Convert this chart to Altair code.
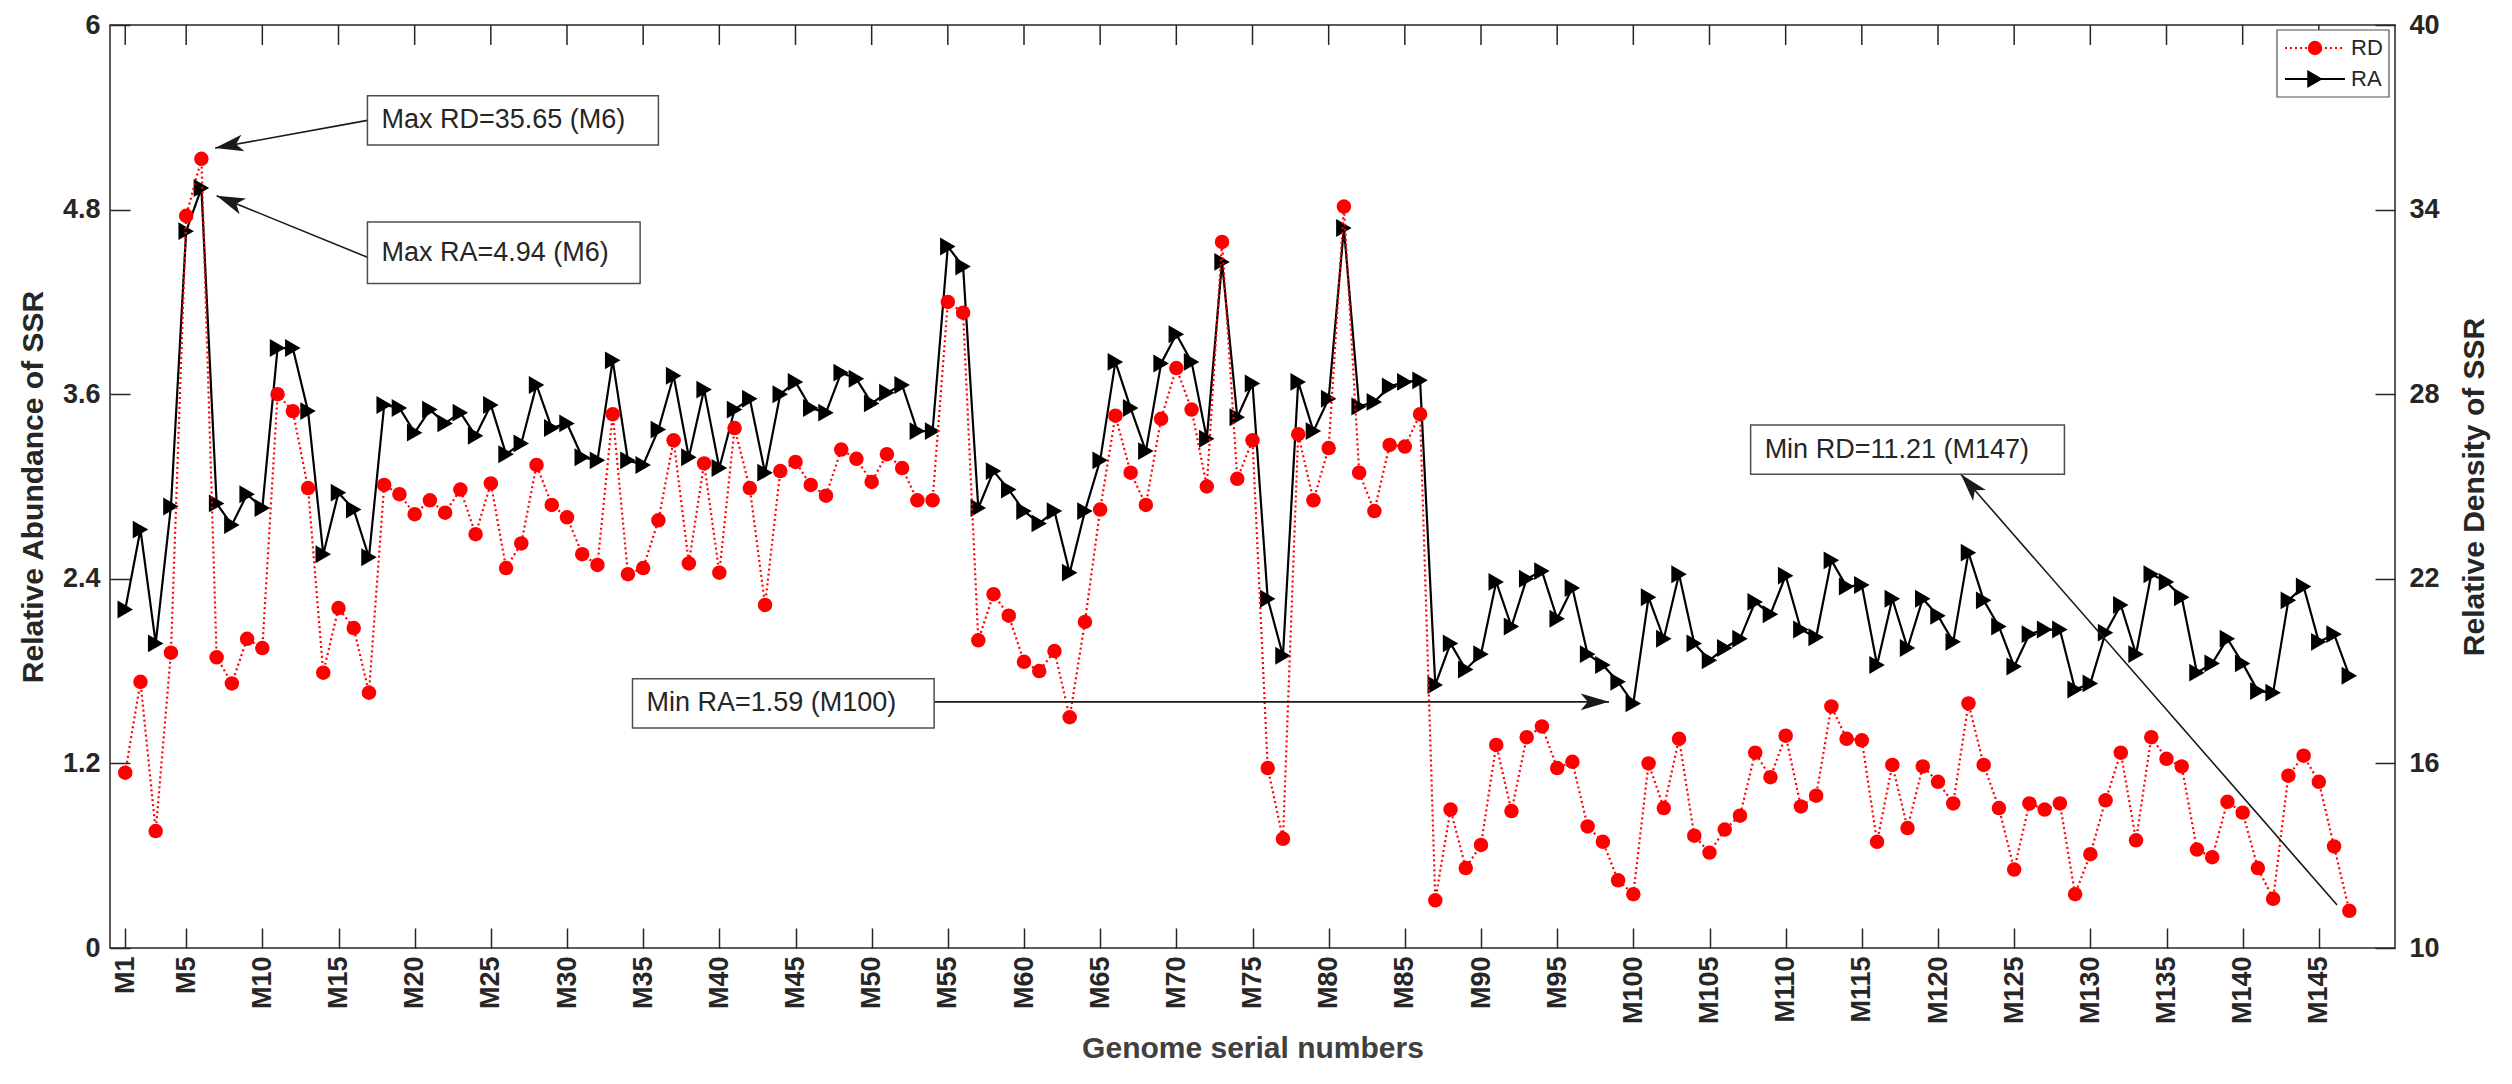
import math
import altair as alt
import pandas as pd

# ---------------- data ----------------
genomes = list(range(1, 148))  # M1 ... M147

RA = [2.20, 2.72, 1.98, 2.87, 4.66, 4.94, 2.89, 2.75, 2.95, 2.86,
      3.90, 3.90, 3.49, 2.56, 2.96, 2.85, 2.54, 3.53, 3.51, 3.35,
      3.50, 3.41, 3.48, 3.33, 3.53, 3.21, 3.28, 3.66, 3.38, 3.41,
      3.19, 3.17, 3.82, 3.17, 3.14, 3.37, 3.72, 3.19, 3.63, 3.12,
      3.50, 3.57, 3.09, 3.60, 3.68, 3.51, 3.48, 3.74, 3.70, 3.54,
      3.61, 3.66, 3.36, 3.36, 4.56, 4.43, 2.86, 3.10, 2.98, 2.84,
      2.76, 2.84, 2.44, 2.84, 3.17, 3.81, 3.51, 3.23, 3.80, 3.99,
      3.81, 3.31, 4.46, 3.45, 3.67, 2.27, 1.90, 3.68, 3.36, 3.57,
      4.68, 3.52, 3.55, 3.65, 3.68, 3.69, 1.71, 1.98, 1.81, 1.91,
      2.38, 2.09, 2.40, 2.45, 2.14, 2.34, 1.91, 1.84, 1.73, 1.59,
      2.28, 2.01, 2.43, 1.98, 1.87, 1.95, 2.01, 2.25, 2.17, 2.42,
      2.07, 2.02, 2.52, 2.35, 2.36, 1.84, 2.27, 1.95, 2.27, 2.16,
      1.99, 2.57, 2.26, 2.09, 1.83, 2.04, 2.07, 2.07, 1.68, 1.72,
      2.05, 2.23, 1.91, 2.43, 2.38, 2.28, 1.79, 1.85, 2.01, 1.85,
      1.67, 1.66, 2.26, 2.35, 1.99, 2.04, 1.77]

RD = [15.70, 18.65, 13.80, 19.60, 33.80, 35.65, 19.45, 18.60, 20.05, 19.75,
      28.00, 27.45, 24.95, 18.95, 21.05, 20.40, 18.30, 25.05, 24.75, 24.10,
      24.55, 24.15, 24.90, 23.45, 25.10, 22.35, 23.15, 25.70, 24.40, 24.00,
      22.80, 22.45, 27.35, 22.15, 22.35, 23.90, 26.50, 22.50, 25.75, 22.20,
      26.90, 24.95, 21.15, 25.50, 25.80, 25.05, 24.70, 26.20, 25.90, 25.15,
      26.05, 25.60, 24.55, 24.55, 31.00, 30.65, 20.00, 21.50, 20.80, 19.30,
      19.00, 19.65, 17.50, 20.60, 24.25, 27.30, 25.45, 24.40, 27.20, 28.85,
      27.50, 25.00, 32.95, 25.25, 26.50, 15.85, 13.55, 26.70, 24.55, 26.25,
      34.10, 25.45, 24.20, 26.35, 26.30, 27.35, 11.55, 14.50, 12.60, 13.35,
      16.60, 14.45, 16.85, 17.20, 15.85, 16.05, 13.95, 13.45, 12.20, 11.75,
      16.00, 14.55, 16.80, 13.65, 13.10, 13.85, 14.30, 16.35, 15.55, 16.90,
      14.60, 14.95, 17.85, 16.80, 16.75, 13.45, 15.95, 13.90, 15.90, 15.40,
      14.70, 17.95, 15.95, 14.55, 12.55, 14.70, 14.50, 14.70, 11.75, 13.05,
      14.80, 16.35, 13.50, 16.85, 16.15, 15.90, 13.20, 12.95, 14.75, 14.40,
      12.60, 11.60, 15.60, 16.25, 15.40, 13.30, 11.21]

x_ticks = [1] + list(range(5, 150, 5))
ra_ticks = [0, 1.2, 2.4, 3.6, 4.8, 6]
rd_ticks = [10, 16, 22, 28, 34, 40]

# annotation boxes (x in genome index, y in RA units)
box_text = ["Max RD=35.65 (M6)", "Max RA=4.94 (M6)", "Min RA=1.59 (M100)", "Min RD=11.21 (M147)"]
box_x1 = [16.9, 16.9, 34.3, 107.7]
box_x2 = [36.0, 34.8, 54.1, 128.3]
box_y1 = [5.22, 4.32, 1.43, 3.08]
box_y2 = [5.54, 4.72, 1.75, 3.40]
arrow_x_from = [16.9, 16.9, 54.1, 146.2]
arrow_y_from = [5.38, 4.49, 1.60, 0.28]
arrow_x_to = [6.9, 7.0, 98.4, 121.5]
arrow_y_to = [5.20, 4.89, 1.60, 3.08]

# ---------------- styling ----------------
W, H = 2285, 923
FONT = "Liberation Sans"
TXT = "#262626"
T = 20  # inward tick length
X_DOMAIN = [0, 150]
TICK_FS = 27
TITLE_FS = 30

df = pd.DataFrame({"idx": genomes, "RA": RA, "RD": RD})

x_axis = alt.Axis(values=x_ticks, labelExpr="'M' + datum.value", labelAngle=270,
                  labelFont=FONT, labelFontSize=TICK_FS, labelFontWeight="bold", labelColor=TXT,
                  labelPadding=8, tickSize=T, offset=-T, tickColor=TXT, tickWidth=1.5,
                  domain=False, grid=False, labelOverlap=False,
                  title="Genome serial numbers", titleFont=FONT, titleFontSize=TITLE_FS,
                  titleFontWeight="bold", titleColor="#404040", titlePadding=10)
x_scale = alt.Scale(domain=X_DOMAIN, nice=False, zero=False)

ra_axis = alt.Axis(values=ra_ticks, format=".2~g", orient="left",
                   labelFont=FONT, labelFontSize=TICK_FS, labelFontWeight="bold", labelColor=TXT,
                   labelPadding=10, tickSize=T, offset=-T, tickColor=TXT, tickWidth=1.5,
                   domain=False, grid=False,
                   title="Relative Abundance of SSR", titleFont=FONT, titleFontSize=TITLE_FS,
                   titleFontWeight="bold", titleColor=TXT, titlePadding=14)
rd_axis = alt.Axis(values=rd_ticks, format="d", orient="right",
                   labelFont=FONT, labelFontSize=TICK_FS, labelFontWeight="bold", labelColor=TXT,
                   labelPadding=14, tickSize=T, offset=-T, tickColor=TXT, tickWidth=1.5,
                   domain=False, grid=False,
                   title="Relative Density of SSR", titleFont=FONT, titleFontSize=TITLE_FS,
                   titleFontWeight="bold", titleColor=TXT, titlePadding=20,
                   titleAngle=270, titleBaseline="top")

ra_scale = alt.Scale(domain=[0, 6], nice=False, zero=False)
rd_scale = alt.Scale(domain=[10, 40], nice=False, zero=False)

base = alt.Chart(df)
xe = alt.X("idx:Q", scale=x_scale, axis=x_axis)

ra_line = base.mark_line(color="black", strokeWidth=2.2).encode(
    x=xe, y=alt.Y("RA:Q", scale=ra_scale, axis=ra_axis))
ra_pts = base.mark_point(shape="triangle-right", filled=True, color="black",
                         size=320, opacity=1).encode(
    x=xe, y=alt.Y("RA:Q", scale=ra_scale, axis=ra_axis))
layer_ra = alt.layer(ra_line, ra_pts)

rd_line = base.mark_line(color="#ff0000", strokeWidth=2.2, strokeDash=[2, 3]).encode(
    x=xe, y=alt.Y("RD:Q", scale=rd_scale, axis=rd_axis))
rd_pts = base.mark_point(shape="circle", filled=True, color="#ff0000",
                         size=210, opacity=1).encode(
    x=xe, y=alt.Y("RD:Q", scale=rd_scale, axis=rd_axis))
layer_rd = alt.layer(rd_line, rd_pts)

# ---------------- annotations ----------------
def screen_angle(x0, y0, x1, y1):
    dx = (x1 - x0) * W / (X_DOMAIN[1] - X_DOMAIN[0])
    dy = -(y1 - y0) * H / 6.0
    return math.degrees(math.atan2(dy, dx)) % 360

ann = pd.DataFrame({
    "text": box_text, "bx1": box_x1, "bx2": box_x2, "by1": box_y1, "by2": box_y2,
    "bym": [(a + b) / 2 for a, b in zip(box_y1, box_y2)],
    "ax0": arrow_x_from, "ay0": arrow_y_from, "ax1": arrow_x_to, "ay1": arrow_y_to,
})
ann["ang"] = [screen_angle(a, b, c, d) for a, b, c, d in
              zip(arrow_x_from, arrow_y_from, arrow_x_to, arrow_y_to)]

ann_scale = alt.Scale(domain=[0, 6], nice=False, zero=False)
abase = alt.Chart(ann)
boxes = abase.mark_rect(fill="white", stroke="#4d4d4d", strokeWidth=1.5).encode(
    x=alt.X("bx1:Q", scale=x_scale, axis=x_axis), x2="bx2:Q",
    y=alt.Y("by1:Q", scale=ann_scale, axis=None), y2="by2:Q")
texts = abase.mark_text(align="left", baseline="middle", dx=14, font=FONT,
                        fontSize=27, color=TXT).encode(
    x=alt.X("bx1:Q", scale=x_scale, axis=x_axis),
    y=alt.Y("bym:Q", scale=ann_scale, axis=None), text="text:N")
arrows = abase.mark_rule(color="#1a1a1a", strokeWidth=1.6).encode(
    x=alt.X("ax0:Q", scale=x_scale, axis=x_axis), x2="ax1:Q",
    y=alt.Y("ay0:Q", scale=ann_scale, axis=None), y2="ay1:Q")
heads = abase.mark_point(shape="M0,0L-2,-0.6L-1.5,0L-2,0.6Z", filled=True,
                         color="#1a1a1a", size=800, opacity=1, strokeWidth=0).encode(
    x=alt.X("ax1:Q", scale=x_scale, axis=x_axis),
    y=alt.Y("ay1:Q", scale=ann_scale, axis=None),
    angle=alt.Angle("ang:Q", scale=None))
layer_ann = alt.layer(arrows, heads, boxes, texts)

# ---------------- inward ticks on the top edge ----------------
top_df = pd.DataFrame({"t": x_ticks})
top_ticks = alt.Chart(top_df).mark_rule(color=TXT, strokeWidth=1.5).encode(
    x=alt.X("t:Q", scale=x_scale, axis=x_axis), y=alt.value(0), y2=alt.value(T))

# ---------------- legend (top-right, inside) ----------------
one = pd.DataFrame({"k": [0]})
lg = alt.Chart(one)
lx1, lx2 = W - 118, W - 6
legend_parts = [
    lg.mark_rect(fill="white", stroke="#4d4d4d", strokeWidth=1.2).encode(
        x=alt.value(lx1), x2=alt.value(lx2), y=alt.value(5), y2=alt.value(72)),
    lg.mark_rule(color="#ff0000", strokeWidth=2.2, strokeDash=[2, 3]).encode(
        x=alt.value(W - 110), x2=alt.value(W - 50), y=alt.value(23)),
    lg.mark_point(shape="circle", filled=True, color="#ff0000", size=210, opacity=1).encode(
        x=alt.value(W - 80), y=alt.value(23)),
    lg.mark_text(align="left", baseline="middle", font=FONT, fontSize=22, color=TXT).encode(
        x=alt.value(W - 44), y=alt.value(23), text=alt.value("RD")),
    lg.mark_rule(color="black", strokeWidth=2.2).encode(
        x=alt.value(W - 110), x2=alt.value(W - 50), y=alt.value(54)),
    lg.mark_point(shape="triangle-right", filled=True, color="black", size=320, opacity=1).encode(
        x=alt.value(W - 80), y=alt.value(54)),
    lg.mark_text(align="left", baseline="middle", font=FONT, fontSize=22, color=TXT).encode(
        x=alt.value(W - 44), y=alt.value(54), text=alt.value("RA")),
]

chart = alt.layer(layer_ra, layer_rd, layer_ann, top_ticks, *legend_parts).resolve_scale(
    y="independent"
).properties(
    width=W, height=H,
    autosize=alt.AutoSizeParams(type="none"),
    padding={"left": 102, "top": 17, "right": 105, "bottom": 124},
    background="white",
).configure_view(stroke=TXT, strokeWidth=1.5)

chart.save("out.html", embed_options={"renderer": "svg", "actions": False})
